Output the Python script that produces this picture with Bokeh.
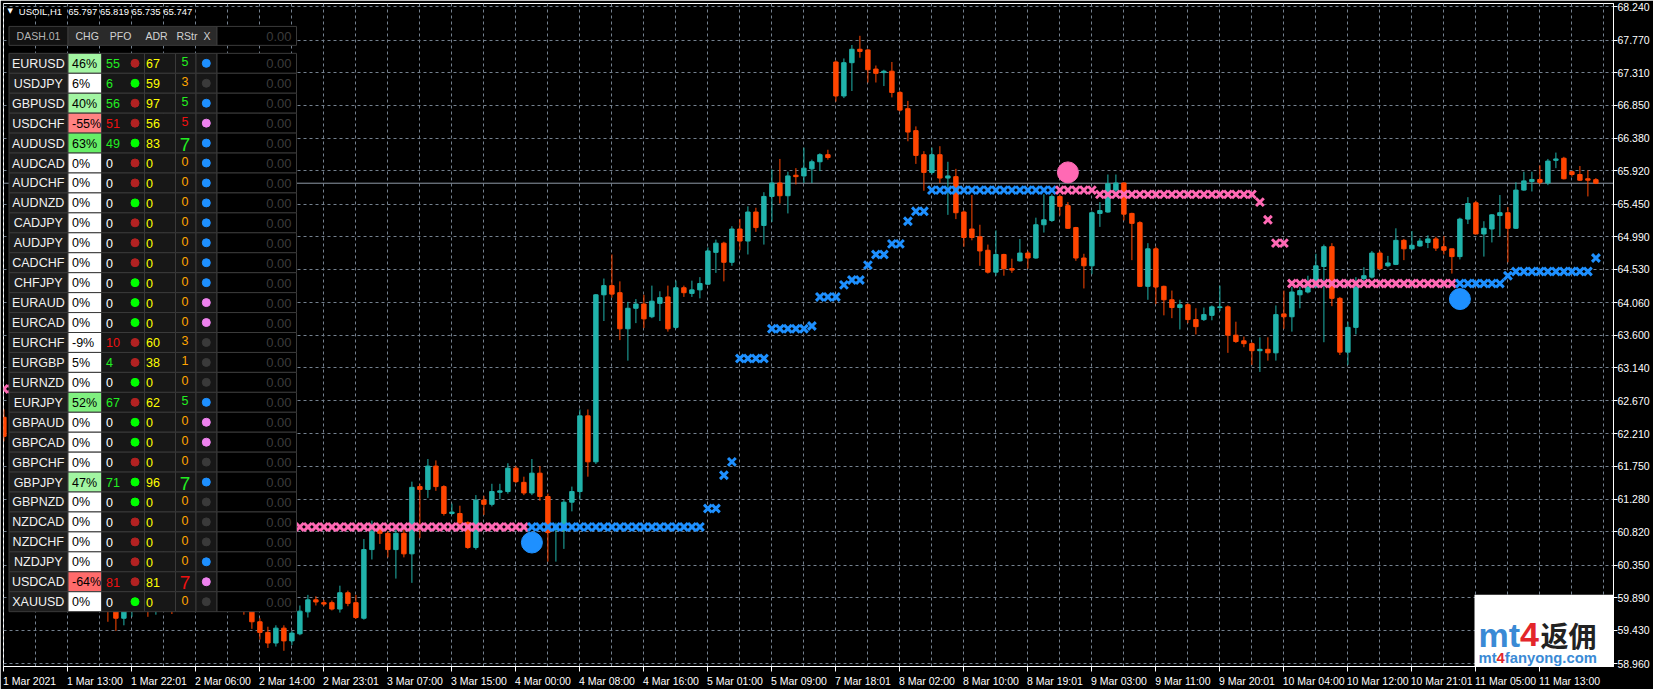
from bokeh.plotting import figure
from bokeh.models import Range1d, FixedTicker, PrintfTickFormatter, Span, Label, ColumnDataSource
from bokeh.core.properties import value
from bokeh.embed import file_html
from bokeh.resources import INLINE

# ---------------- data ----------------
chart_symbol = "USOIL,H1"
chart_ohlc = "65.797 65.819 65.735 65.747"
last_price = 65.747

opens = [62.44, 62.17, 62.30, 61.95, 61.60, 61.70, 61.20, 60.90, 61.05, 60.60,
         60.35, 60.10, 60.25, 59.85, 59.72, 59.60, 59.75, 59.90, 59.95, 59.82,
         59.98, 60.05, 60.03, 60.12, 60.20, 60.05, 59.95, 59.90, 59.85, 59.80,
         59.76, 59.72, 59.55, 59.40, 59.25, 59.46, 59.28, 59.38, 59.69, 59.86,
         59.82, 59.82, 59.73, 59.96, 59.82, 59.60, 60.57, 60.88, 60.80, 60.57,
         60.80, 60.51, 61.46, 61.42, 61.75, 61.46, 61.08, 61.08, 60.95, 60.60,
         61.27, 61.21, 61.38, 61.39, 61.72, 61.52, 61.37, 61.65, 61.32, 60.85,
         60.84, 61.24, 61.39, 62.46, 61.81, 64.17, 64.30, 64.20, 63.69, 63.98,
         64.04, 63.86, 64.05, 64.14, 63.71, 64.27, 64.19, 64.24, 64.32, 64.77,
         64.90, 64.63, 65.10, 64.93, 65.34, 65.15, 65.56, 65.75, 65.57, 65.86,
         65.85, 65.95, 66.05, 66.15, 67.46, 66.98, 67.45, 67.64, 67.63, 67.36,
         67.31, 67.33, 67.03, 66.80, 66.49, 66.15, 65.90, 66.15, 65.82, 65.84,
         65.34, 65.10, 64.99, 64.80, 64.49, 64.74, 64.54, 64.65, 64.76, 64.69,
         65.16, 65.22, 65.56, 65.43, 65.12, 64.69, 64.58, 65.32, 65.34, 65.65,
         65.75, 65.32, 65.19, 64.29, 64.82, 64.29, 64.10, 63.99, 64.03, 63.82,
         63.82, 63.88, 63.99, 64.00, 63.60, 63.52, 63.48, 63.38, 63.40, 63.35,
         63.90, 63.86, 64.17, 64.21, 64.28, 64.57, 64.85, 64.12, 63.36, 63.71,
         64.40, 64.42, 64.76, 64.58, 64.60, 64.94, 64.82, 64.86, 64.91, 64.96,
         64.85, 64.82, 64.71, 65.24, 65.47, 65.03, 65.10, 65.29, 65.33, 65.11,
         65.65, 65.77, 65.80, 65.75, 66.07, 66.10, 65.91, 65.87, 65.81, 65.797]

highs = [62.55, 62.40, 62.35, 62.02, 61.78, 61.74, 61.30, 61.12, 61.08, 60.66,
         60.40, 60.32, 60.28, 59.92, 59.80, 59.82, 59.95, 60.02, 60.00, 60.02,
         60.10, 60.12, 60.18, 60.26, 60.24, 60.10, 60.02, 59.98, 59.90, 59.86,
         59.80, 59.76, 59.60, 59.48, 59.50, 59.50, 59.42, 59.78, 59.93, 59.91,
         59.86, 59.85, 60.06, 59.99, 59.93, 60.72, 60.98, 60.92, 60.83, 60.88,
         60.86, 61.53, 61.50, 61.85, 61.83, 61.48, 61.22, 61.19, 60.97, 61.34,
         61.33, 61.50, 61.50, 61.79, 61.75, 61.60, 61.85, 61.75, 61.36, 60.95,
         61.27, 61.46, 62.55, 62.55, 64.18, 64.40, 64.74, 64.36, 64.07, 64.11,
         64.17, 64.30, 64.22, 64.30, 64.37, 64.30, 64.37, 64.42, 64.84, 64.95,
         64.92, 65.14, 65.24, 65.42, 65.40, 65.62, 65.94, 66.09, 65.91, 65.96,
         66.25, 66.08, 66.17, 66.22, 67.48, 67.51, 67.70, 67.83, 67.64, 67.41,
         67.35, 67.46, 67.05, 66.91, 66.55, 66.20, 66.25, 66.27, 66.05, 65.95,
         65.36, 65.58, 65.16, 64.88, 65.08, 64.75, 64.68, 64.96, 64.79, 65.26,
         65.59, 65.59, 65.59, 65.48, 65.13, 64.75, 65.35, 65.48, 65.87, 65.87,
         65.76, 65.33, 65.21, 64.90, 64.85, 64.30, 64.23, 64.10, 64.05, 63.98,
         63.99, 64.02, 64.30, 64.02, 63.79, 63.58, 63.50, 63.57, 63.57, 64.02,
         64.23, 64.28, 64.28, 64.44, 64.75, 64.88, 64.90, 64.14, 63.79, 64.42,
         64.56, 64.79, 64.79, 64.72, 65.11, 64.96, 65.07, 64.97, 65.01, 64.99,
         65.00, 64.82, 65.26, 65.55, 65.50, 65.21, 65.31, 65.58, 65.41, 65.76,
         65.91, 65.91, 66.00, 66.09, 66.18, 66.12, 65.92, 65.99, 65.93, 65.819]

lows = [62.10, 62.05, 61.88, 61.52, 61.50, 61.12, 60.82, 60.85, 60.55, 60.28,
        60.02, 60.05, 59.78, 59.55, 59.42, 59.50, 59.62, 59.84, 59.62, 59.65,
        59.92, 59.66, 59.70, 60.05, 60.00, 59.90, 59.84, 59.80, 59.74, 59.70,
        59.65, 59.45, 59.30, 59.18, 59.20, 59.14, 59.22, 59.36, 59.61, 59.78,
        59.77, 59.71, 59.68, 59.77, 59.59, 59.58, 60.43, 60.65, 60.46, 60.16,
        60.46, 60.10, 60.73, 61.30, 61.40, 61.05, 61.06, 60.89, 60.58, 60.57,
        61.06, 61.18, 61.28, 61.36, 61.51, 61.34, 61.34, 61.26, 60.40, 60.40,
        60.58, 61.11, 61.28, 61.60, 61.78, 63.80, 64.13, 63.53, 63.24, 63.77,
        63.70, 63.84, 63.80, 63.65, 63.69, 64.14, 64.14, 64.12, 64.31, 64.48,
        64.36, 64.58, 64.80, 64.74, 65.06, 64.88, 65.20, 65.46, 65.32, 65.73,
        65.75, 65.75, 65.92, 66.08, 66.90, 66.95, 67.05, 67.52, 67.17, 67.17,
        67.12, 66.96, 66.76, 66.34, 66.02, 65.64, 65.87, 65.75, 65.30, 65.24,
        64.85, 64.94, 64.58, 64.47, 64.44, 64.44, 64.48, 64.64, 64.54, 64.68,
        65.05, 65.20, 65.29, 65.10, 64.65, 64.26, 64.46, 65.13, 65.33, 65.60,
        65.22, 64.66, 64.28, 64.10, 64.04, 63.88, 63.84, 63.68, 63.77, 63.61,
        63.80, 63.81, 63.94, 63.35, 63.49, 63.43, 63.18, 63.08, 63.24, 63.24,
        63.69, 63.65, 63.98, 64.19, 64.28, 63.50, 64.01, 63.32, 63.18, 63.61,
        64.33, 64.40, 64.52, 64.56, 64.59, 64.66, 64.80, 64.85, 64.83, 64.79,
        64.74, 64.47, 64.67, 65.17, 65.03, 64.71, 64.91, 65.00, 64.63, 65.10,
        65.64, 65.63, 65.73, 65.72, 65.96, 65.80, 65.84, 65.78, 65.56, 65.735]

closes = [62.17, 62.30, 61.95, 61.60, 61.70, 61.20, 60.90, 61.05, 60.60, 60.35,
          60.10, 60.25, 59.85, 59.70, 59.60, 59.75, 59.90, 59.95, 59.82, 59.98,
          60.05, 60.03, 60.12, 60.20, 60.05, 59.95, 59.90, 59.85, 59.80, 59.75,
          59.72, 59.55, 59.40, 59.25, 59.46, 59.28, 59.39, 59.70, 59.86, 59.83,
          59.80, 59.73, 59.96, 59.81, 59.61, 60.57, 60.83, 60.80, 60.57, 60.80,
          60.51, 61.45, 61.42, 61.75, 61.46, 61.08, 61.10, 60.95, 60.60, 61.27,
          61.21, 61.39, 61.40, 61.72, 61.53, 61.37, 61.65, 61.32, 60.81, 60.90,
          61.24, 61.39, 62.46, 61.81, 64.17, 64.30, 64.18, 63.69, 63.98, 64.04,
          63.83, 64.08, 64.13, 63.69, 64.27, 64.20, 64.24, 64.33, 64.79, 64.90,
          64.63, 65.10, 64.93, 65.34, 65.12, 65.56, 65.75, 65.57, 65.85, 65.84,
          65.96, 66.05, 66.15, 66.11, 66.98, 67.45, 67.64, 67.61, 67.35, 67.30,
          67.33, 67.03, 66.78, 66.47, 66.14, 65.90, 66.15, 65.82, 65.85, 65.33,
          64.98, 64.98, 64.79, 64.49, 64.74, 64.54, 64.52, 64.76, 64.69, 65.16,
          65.23, 65.56, 65.42, 65.11, 64.69, 64.58, 65.33, 65.36, 65.74, 65.75,
          65.31, 65.18, 64.29, 64.82, 64.28, 64.10, 63.99, 64.03, 63.82, 63.72,
          63.89, 64.00, 64.00, 63.60, 63.51, 63.48, 63.38, 63.40, 63.35, 63.89,
          63.86, 64.21, 64.23, 64.28, 64.58, 64.85, 64.12, 63.36, 63.71, 64.28,
          64.44, 64.76, 64.54, 64.62, 64.94, 64.82, 64.87, 64.93, 64.96, 64.83,
          64.80, 64.71, 65.24, 65.46, 65.03, 65.11, 65.30, 65.33, 65.11, 65.65,
          65.78, 65.80, 65.76, 66.06, 66.09, 65.81, 65.87, 65.79, 65.79, 65.747]

# trailing-stop staircase: first bar, last bar, level, side
trail_from  = [0, 9, 66, 88, 90, 91, 92, 96, 101, 102, 105, 106, 108, 109, 111, 113, 114, 116, 132, 137, 157, 158, 159, 161, 182, 188, 189, 199]
trail_to    = [8, 65, 87, 89, 90, 91, 95, 100, 101, 104, 105, 107, 108, 110, 112, 113, 115, 131, 136, 156, 157, 158, 160, 181, 187, 188, 198, 199]
trail_level = [62.84, 60.89, 60.89, 61.15, 61.62, 61.81, 63.27, 63.69, 63.73, 64.14, 64.31, 64.38, 64.59, 64.74, 64.89, 65.21, 65.35, 65.65, 65.65, 65.59, 65.48, 65.23, 64.90, 64.33, 64.33, 64.44, 64.50, 64.69]
trail_side  = ["sell", "sell", "buy", "buy", "buy", "buy", "buy", "buy", "buy", "buy", "buy", "buy", "buy", "buy", "buy", "buy", "buy", "buy", "sell", "sell", "sell", "sell", "sell", "sell", "buy", "buy", "buy", "buy"]

signal_bar = [66, 133, 182]
signal_price = [60.67, 65.90, 64.11]
signal_side = ["buy", "sell", "buy"]

x_labels = ["1 Mar 2021", "1 Mar 13:00", "1 Mar 22:01", "2 Mar 06:00", "2 Mar 14:00",
            "2 Mar 23:01", "3 Mar 07:00", "3 Mar 15:00", "4 Mar 00:00", "4 Mar 08:00",
            "4 Mar 16:00", "5 Mar 01:00", "5 Mar 09:00", "7 Mar 18:01", "8 Mar 02:00",
            "8 Mar 10:00", "8 Mar 19:01", "9 Mar 03:00", "9 Mar 11:00", "9 Mar 20:01",
            "10 Mar 04:00", "10 Mar 12:00", "10 Mar 21:01", "11 Mar 05:00", "11 Mar 13:00"]
y_ticks = [68.240, 67.770, 67.310, 66.850, 66.380, 65.920, 65.450, 64.990, 64.530, 64.060,
           63.600, 63.140, 62.670, 62.210, 61.750, 61.280, 60.820, 60.350, 59.890, 59.430, 58.960]

# dashboard
dash_symbols = ["EURUSD", "USDJPY", "GBPUSD", "USDCHF", "AUDUSD", "AUDCAD", "AUDCHF", "AUDNZD",
                "CADJPY", "AUDJPY", "CADCHF", "CHFJPY", "EURAUD", "EURCAD", "EURCHF", "EURGBP",
                "EURNZD", "EURJPY", "GBPAUD", "GBPCAD", "GBPCHF", "GBPJPY", "GBPNZD", "NZDCAD",
                "NZDCHF", "NZDJPY", "USDCAD", "XAUUSD"]
dash_chg = [46, 6, 40, -55, 63, 0, 0, 0, 0, 0, 0, 0, 0, 0, -9, 5, 0, 52, 0, 0, 0, 47, 0, 0, 0, 0, -64, 0]
dash_pfo = [55, 6, 56, 51, 49, 0, 0, 0, 0, 0, 0, 0, 0, 0, 10, 4, 0, 67, 0, 0, 0, 71, 0, 0, 0, 0, 81, 0]
dash_pfo_dot = ["dn", "up", "dn", "dn", "up", "dn", "dn", "up", "dn", "dn", "dn", "up", "up", "up", "dn",
                "dn", "up", "dn", "up", "up", "dn", "up", "up", "dn", "dn", "dn", "dn", "up"]
dash_adr = [67, 59, 97, 56, 83, 0, 0, 0, 0, 0, 0, 0, 0, 0, 60, 38, 0, 62, 0, 0, 0, 96, 0, 0, 0, 0, 81, 0]
dash_rstr = [5, 3, 5, 5, 7, 0, 0, 0, 0, 0, 0, 0, 0, 0, 3, 1, 0, 5, 0, 0, 0, 7, 0, 0, 0, 0, 7, 0]
dash_x = ["buy", "none", "buy", "sell", "buy", "buy", "buy", "buy", "buy", "buy", "buy", "buy", "sell", "sell",
          "none", "none", "none", "buy", "sell", "sell", "none", "buy", "none", "none", "none", "buy", "sell", "none"]
dash_headers = ["CHG", "PFO", "ADR", "RStr", "X"]
dash_name = "DASH.01"
dash_value = "0.00"

# ---------------- styling ----------------
LS = "Liberation Sans"
BULL, BEAR = "#20b2aa", "#ff4500"
BLUE, PINK = "#1e90ff", "#ff69b4"
GRID = "#74818f"

BAR_PX = 8.0
X0 = -0.05
FRAME_W, FRAME_H = 1610, 665
Y0, Y1 = 58.918, 68.2865
AX_FONT = 10.5

p = figure(width=1653, height=689,
           x_range=Range1d(X0, X0 + FRAME_W / BAR_PX), y_range=Range1d(Y0, Y1),
           y_axis_location="right", output_backend="svg", toolbar_location=None,
           background_fill_color="black", border_fill_color="black",
           min_border_left=3, min_border_top=3, min_border_right=40, min_border_bottom=21,
           outline_line_color="white")
p.styles = {"position": "absolute", "left": "0px", "top": "0px"}

# pixel-space ranges for overlay panels
p.extra_x_ranges = {"px": Range1d(3, 3 + FRAME_W)}
p.extra_y_ranges = {"py": Range1d(3 + FRAME_H, 3)}

# ---- axes ----
CW = {d: 0.556 for d in "0123456789"}
CW.update({" ": 0.278, "M": 0.833, "a": 0.556, "r": 0.333, ":": 0.278})
def em(s):
    return sum(CW.get(c, 0.556) for c in s)

tick_pos = [8 * k for k in range(len(x_labels))]
label_pos = [round((8 * k + (em(lab) * AX_FONT * 0.93 / 2 + 1.0) / BAR_PX) * 64) / 64
             for k, lab in enumerate(x_labels)]

xa = p.xaxis[0]
xa.ticker = FixedTicker(ticks=label_pos, minor_ticks=tick_pos)
xa.major_label_overrides = {lp: lab for lp, lab in zip(label_pos, x_labels)}
xa.major_tick_out = 0
xa.major_tick_in = 0
xa.minor_tick_out = 5
xa.minor_tick_in = 0
xa.minor_tick_line_color = "white"
xa.axis_line_color = "white"
xa.major_label_text_color = "white"
xa.major_label_text_font = LS
xa.major_label_text_font_size = "%spx" % AX_FONT
xa.major_label_standoff = 3

ya = p.yaxis[0]
ya.ticker = FixedTicker(ticks=y_ticks)
ya.formatter = PrintfTickFormatter(format="%.3f")
ya.major_tick_out = 4
ya.major_tick_in = 0
ya.minor_tick_out = 0
ya.minor_tick_in = 0
ya.major_tick_line_color = "white"
ya.axis_line_color = "white"
ya.major_label_text_color = "white"
ya.major_label_text_font = LS
ya.major_label_text_font_size = "%spx" % AX_FONT
ya.major_label_standoff = 0

p.xgrid[0].ticker = FixedTicker(ticks=list(range(0, 204, 4)))
p.ygrid[0].ticker = FixedTicker(ticks=y_ticks)
for g in (p.xgrid[0], p.ygrid[0]):
    g.grid_line_color = GRID
    g.grid_line_dash = "3 3"
    g.grid_line_width = 1

# ---- price line ----
p.add_layout(Span(location=last_price, dimension="width", line_color="#8e9aa6",
                  line_width=1, level="underlay"))

# ---- candles ----
n = len(opens)
cs = ColumnDataSource(dict(
    x=list(range(n)), o=opens, h=highs, l=lows, c=closes,
    top=[max(a, b) for a, b in zip(opens, closes)],
    bot=[min(a, b) for a, b in zip(opens, closes)],
    col=[BULL if c >= o else BEAR for o, c in zip(opens, closes)]))
p.segment(x0="x", y0="l", x1="x", y1="h", line_color="col", line_width=1, source=cs)
p.vbar(x="x", width=0.55, top="top", bottom="bot", fill_color="col", line_color="col",
       line_width=1, source=cs)

# ---- trailing markers ----
tx, ty, tc = [], [], []
for a, b, lev, side in zip(trail_from, trail_to, trail_level, trail_side):
    for i in range(a, b + 1):
        tx.append(i)
        ty.append(lev)
        tc.append(BLUE if side == "buy" else PINK)
p.scatter(x=tx, y=ty, marker="x", size=11, line_width=3, line_color=tc)

p.scatter(x=signal_bar, y=signal_price, marker="circle", size=21,
          fill_color=[BLUE if s == "buy" else PINK for s in signal_side],
          line_color=[BLUE if s == "buy" else PINK for s in signal_side])

# ---- title text ----
p.text(x=[7], y=[10.5], text=["\u25bc"], text_font=value("DejaVu Sans"), text_font_size="7px",
       text_color="white", text_baseline="middle", x_range_name="px", y_range_name="py")
p.text(x=[18.3, 67.7], y=[10.7, 10.7], text=[chart_symbol, chart_ohlc], text_font=value(LS),
       text_font_size="9.5px", text_color="white", text_baseline="middle",
       x_range_name="px", y_range_name="py")

# ---- dashboard ----
E = [8.5, 67.5, 101.0, 144.0, 175.0, 195.5, 216.5, 296.0]
ROW0, ROWH = 53.0, 20.0
HEAD_T, HEAD_B = 26.0, 45.0
BORDER = "#3a3a3a"

def chg_bg(v):
    if v >= 60: return "#66ee66"
    if v >= 50: return "#80f080"
    if v >= 40: return "#a2f5a2"
    if v <= -60: return "#ff6b6b"
    if v <= -50: return "#ff8282"
    return "#ffffff"

ql, qr, qt, qb, qf = [], [], [], [], []
def cell(l, r, t, b, f):
    ql.append(l); qr.append(r); qt.append(t); qb.append(b); qf.append(f)

cell(E[0], E[1], HEAD_T, HEAD_B, "#121212")
cell(E[1], E[6], HEAD_T, HEAD_B, "#2a2a2a")
cell(E[6], E[7], HEAD_T, HEAD_B, "#000000")
for r in range(len(dash_symbols)):
    t = ROW0 + ROWH * r
    b = t + ROWH
    cell(E[0], E[1], t, b, "#1e1e1e")
    cell(E[1], E[2], t, b, chg_bg(dash_chg[r]))
    for k in range(2, 6):
        cell(E[k], E[k + 1], t, b, "#171717")
    cell(E[6], E[7], t, b, "#000000")
p.quad(left=ql, right=qr, top=qt, bottom=qb, fill_color=qf, line_color=BORDER, line_width=1,
       x_range_name="px", y_range_name="py")

tX, tY, tT, tC, tS, tA = [], [], [], [], [], []
def txt(x, y, s, c, size, align):
    tX.append(x); tY.append(y); tT.append(s); tC.append(c); tS.append(size); tA.append(align)

hy = (HEAD_T + HEAD_B) / 2 + 0.5
txt(38.0, hy, dash_name, "#b4b4b4", "10.5px", "center")
for hx, h in zip([86.7, 120.0, 156.0, 186.5, 206.5], dash_headers):
    txt(hx, hy, h, "#d2d2d2", "10.5px", "center")
txt(291.0, hy, dash_value, "#3c3c3c", "13px", "right")

dot_x, dot_y, dot_c = [], [], []
for r, sym in enumerate(dash_symbols):
    yc = ROW0 + ROWH * r + 10.5
    chg = dash_chg[r]
    sign_col = "#22ee22" if chg > 0 else ("#ee1111" if chg < 0 else "#ffffff")
    txt(37.8, yc, sym, "#f2f2f2", "12.5px", "center")
    txt(71.5, yc, "%d%%" % chg, "#000000", "12.5px", "left")
    txt(105.5, yc, str(dash_pfo[r]), sign_col, "12.5px", "left")
    txt(145.5, yc, str(dash_adr[r]), "#ffff00", "12.5px", "left")
    rs = dash_rstr[r]
    if rs >= 5:
        rcol = "#22ee22" if chg > 0 else "#ee1111"
    else:
        rcol = "#ffa500"
    if rs >= 7:
        txt(184.5, yc + 0.5, str(rs), rcol, "19px", "center")
    else:
        txt(184.5, yc - 2.0, str(rs), rcol, "12.5px", "center")
    txt(291.0, yc, dash_value, "#3c3c3c", "13px", "right")
    dot_x += [134.5, 205.8]
    dot_y += [yc - 0.5, yc - 0.5]
    dot_c.append("#00ff00" if dash_pfo_dot[r] == "up" else "#b22222")
    dot_c.append({"buy": BLUE, "sell": "#ee82ee", "none": "#3a3a3a"}[dash_x[r]])

p.text(x=tX, y=tY, text=tT, text_color=tC, text_font_size=tS, text_align=tA,
       text_font=value(LS), text_baseline="middle", x_range_name="px", y_range_name="py")
p.scatter(x=dot_x, y=dot_y, marker="circle", size=8, fill_color=dot_c, line_color=dot_c,
          x_range_name="px", y_range_name="py")

# ---- watermark ----
p.quad(left=[1474], right=[1613], top=[596], bottom=[668], fill_color="white", line_color=None,
       x_range_name="px", y_range_name="py")
wm_blue, wm_red = "#3a8ad5", "#e3262b"
p.text(x=[1478, 1519.5], y=[636, 636], text=["mt", "4"], text_color=[wm_blue, wm_red],
       text_font=value(LS), text_font_style="bold", text_font_size="34px",
       text_baseline="alphabetic", x_range_name="px", y_range_name="py")
p.text(x=[1540], y=[636], text=["\u8fd4\u4f63"], text_color="#222222",
       text_font=value("Noto Sans CJK SC"), text_font_style="bold", text_font_size="28px",
       text_baseline="alphabetic", x_range_name="px", y_range_name="py")
p.text(x=[1478, 1496.1, 1504.3], y=[659, 659, 659], text=["mt", "4", "fanyong.com"],
       text_color=[wm_blue, wm_red, wm_blue], text_font=value(LS), text_font_style="bold",
       text_font_size="14.8px", text_baseline="alphabetic", x_range_name="px", y_range_name="py")

# ---- current price tag ----
p.add_layout(Label(x=X0 + FRAME_W / BAR_PX + 0.12, y=last_price, text="65.747",
                   text_align="left", text_baseline="middle", text_font=LS,
                   text_font_size="%spx" % AX_FONT, text_color="black",
                   background_fill_color="white", padding=1))

open("out.html", "w").write(file_html(p, INLINE))
